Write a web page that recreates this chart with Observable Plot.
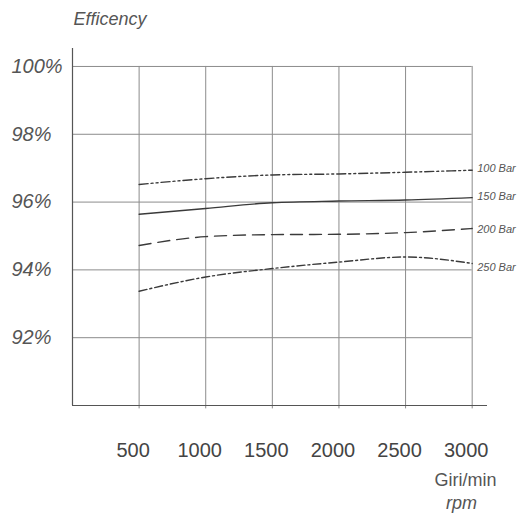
<!DOCTYPE html>
<html>
<head>
<meta charset="utf-8">
<script src="https://cdn.jsdelivr.net/npm/d3@7"></script>
<script src="https://cdn.jsdelivr.net/npm/@observablehq/plot@0.6"></script>
<style>
  html, body { margin: 0; padding: 0; background: #fff; }
  svg { display: block; }
</style>
</head>
<body>
<div id="chart"></div>
<script>
const rpm = [500, 1000, 1500, 2000, 2500, 3000];
const bar100 = [96.52, 96.69, 96.80, 96.83, 96.88, 96.94];
const bar150 = [95.64, 95.81, 95.98, 96.03, 96.06, 96.13];
const bar200 = [94.72, 94.98, 95.04, 95.05, 95.10, 95.22];
const bar250 = [93.37, 93.79, 94.04, 94.23, 94.38, 94.19];
const seriesNames = ["100 Bar", "150 Bar", "200 Bar", "250 Bar"];
const yTicks = [92, 94, 96, 98, 100];
const yTickLabels = ["92%", "94%", "96%", "98%", "100%"];
const xTickLabels = ["500", "1000", "1500", "2000", "2500", "3000"];

const seriesValues = [bar100, bar150, bar200, bar250];
const dashes = ["9,3,2,3,2,3", null, "12,7", "8,3,2,3"];
const labelDy = [-2, -1, 1, 4];

const rows = seriesNames.flatMap((name, i) =>
  rpm.map((r, j) => ({name, rpm: r, eff: seriesValues[i][j]})));

const lineColor = "#3a3a3a";
const gridColor = "#8c8c8c";
const textColor = "#555";

const marks = [
  // grid
  Plot.ruleY(yTicks, {y: d => d, x1: 0, x2: 3000, stroke: gridColor, strokeWidth: 1}),
  Plot.ruleX(rpm, {x: d => d, y1: 89.9, y2: 100, stroke: gridColor, strokeWidth: 1}),
  // axes
  Plot.ruleX([0], {stroke: "#555", strokeWidth: 1.2}),
  Plot.ruleY([90], {stroke: "#555", strokeWidth: 1.2}),
];

seriesNames.forEach((name, i) => {
  const data = rows.filter(d => d.name === name);
  marks.push(Plot.line(data, {
    x: "rpm", y: "eff", stroke: lineColor, strokeWidth: 1.4,
    strokeDasharray: dashes[i] || undefined, curve: "monotone-x"
  }));
  marks.push(Plot.text(data.slice(-1), {
    x: "rpm", y: "eff", text: "name", dx: 5, dy: labelDy[i],
    textAnchor: "start", fontSize: 11, fontStyle: "italic",
    fill: textColor, letterSpacing: "0.3px"
  }));
});

const plot = Plot.plot({
  width: 517,
  height: 515,
  marginTop: 48,
  marginBottom: 110,
  marginLeft: 72,
  marginRight: 30,
  x: {domain: [0, 3115], axis: null},
  y: {domain: [90, 100.53], axis: null},
  style: {background: "#fff", fontFamily: "Liberation Sans, Arial, sans-serif"},
  marks: [
    ...marks,
    Plot.text(yTicks, {
      y: d => d, text: (d, i) => yTickLabels[i], frameAnchor: "left", dx: -61,
      textAnchor: "start", fontSize: 20, fontStyle: "italic", fill: textColor
    }),
    Plot.text(rpm, {
      x: d => d, text: (d, i) => xTickLabels[i], frameAnchor: "bottom", dy: 45, dx: -6,
      lineAnchor: "middle", fontSize: 20, fill: "#444", letterSpacing: "1.5px"
    }),
    Plot.text(["Efficency"], {
      frameAnchor: "top-left", dx: 1, dy: -36, textAnchor: "start",
      fontSize: 18, fontStyle: "italic", fill: textColor
    }),
    Plot.text(["Giri/min"], {
      frameAnchor: "bottom-right", dx: 9, dy: 75, textAnchor: "end",
      lineAnchor: "middle", fontSize: 18, fill: textColor, letterSpacing: "0.8px"
    }),
    Plot.text(["rpm"], {
      frameAnchor: "bottom-right", dx: -26, dy: 98, textAnchor: "middle",
      lineAnchor: "middle", fontSize: 18, fontStyle: "italic", fill: textColor
    })
  ]
});

document.getElementById("chart").appendChild(plot);
</script>
</body>
</html>
